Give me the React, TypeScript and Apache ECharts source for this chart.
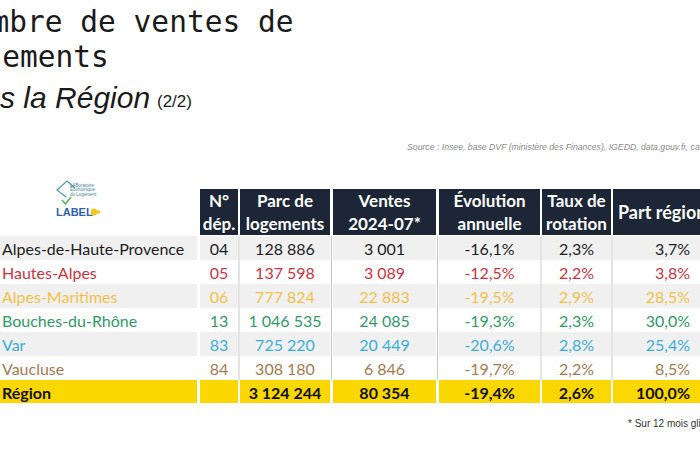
import { useEffect, useRef } from "react";
import * as echarts from "echarts";

// ---- Data ----
const departements = [
  "Alpes-de-Haute-Provence",
  "Hautes-Alpes",
  "Alpes-Maritimes",
  "Bouches-du-Rhône",
  "Var",
  "Vaucluse",
];
const codes = ["04", "05", "06", "13", "83", "84"];
const parcLogements = [128886, 137598, 777824, 1046535, 725220, 308180];
const ventes = [3001, 3089, 22883, 24085, 20449, 6846];
const evolution = [-16.1, -12.5, -19.5, -19.3, -20.6, -19.7];
const tauxRotation = [2.3, 2.2, 2.9, 2.3, 2.8, 2.2];
const partRegion = [3.7, 3.8, 28.5, 30.0, 25.4, 8.5];

const regionLabel = "Région";
const regionParc = 3124244;
const regionVentes = 80354;
const regionEvolution = -19.4;
const regionTaux = 2.6;
const regionPart = 100.0;

const headers = [
  "",
  "N°\ndép.",
  "Parc de\nlogements",
  "Ventes\n2024-07*",
  "Évolution\nannuelle",
  "Taux de\nrotation",
  "Part région",
];

const rowColors = ["#1e1e1e", "#cc3340", "#f0c24a", "#2f9a66", "#3aaed8", "#a57a50"];

const titleLine1 = "Nombre de ventes de";
const titleLine2 = "logements";
const titleLine3 = "Dans la Région";
const titlePage = "(2/2)";
const sourceText =
  "Source : Insee, base DVF (ministère des Finances), IGEDD, data.gouv.fr, calculs LABEL";
const footnote = "* Sur 12 mois glissants";

// ---- Formatting ----
const fmtInt = (n: number) => String(n).replace(/\B(?=(\d{3})+(?!\d))/g, " ");
const fmtPct = (v: number) => v.toFixed(1).replace(".", ",") + "%";

// ---- Layout ----
const cols = [
  { x0: 0, x1: 197, align: "left" },
  { x0: 200, x1: 238, align: "center" },
  { x0: 240, x1: 330, align: "center" },
  { x0: 333, x1: 436, align: "center" },
  { x0: 439, x1: 540, align: "center" },
  { x0: 542, x1: 611, align: "center" },
  { x0: 613, x1: 720, align: "right" },
];
const headerTop = 189;
const headerBottom = 235;
const rowTop = 236;
const rowH = 24;
const FONT = "Lato";

export default function App() {
  const ref = useRef<HTMLDivElement>(null);

  useEffect(() => {
    if (!ref.current) return;
    const chart = echarts.init(ref.current, undefined, { renderer: "svg" });
    const els: any[] = [];

    // Title
    els.push({
      type: "text",
      x: -44,
      y: 22,
      style: {
        text: titleLine1,
        font: "29.5px 'DejaVu Sans Mono'",
        fill: "#1a1a1a",
        verticalAlign: "middle",
      },
    });
    els.push({
      type: "text",
      x: -51,
      y: 57,
      style: {
        text: titleLine2,
        font: "29.5px 'DejaVu Sans Mono'",
        fill: "#1a1a1a",
        verticalAlign: "middle",
      },
    });
    els.push({
      type: "text",
      x: -55,
      y: 97,
      style: {
        text: titleLine3,
        font: "italic 30px 'Liberation Sans'",
        fill: "#1a1a1a",
        verticalAlign: "middle",
      },
    });
    els.push({
      type: "text",
      x: 157,
      y: 101,
      style: {
        text: titlePage,
        font: "17px 'Liberation Sans'",
        fill: "#1a1a1a",
        verticalAlign: "middle",
      },
    });
    els.push({
      type: "text",
      x: 407,
      y: 147,
      style: {
        text: sourceText,
        font: "italic 8.7px 'Liberation Sans'",
        fill: "#8a8a8a",
        verticalAlign: "middle",
      },
    });
    els.push({
      type: "text",
      x: 628,
      y: 423,
      style: {
        text: footnote,
        font: "10px 'Liberation Sans'",
        fill: "#333",
        verticalAlign: "middle",
      },
    });

    // Logo
    els.push({
      type: "polyline",
      shape: { points: [[66, 197], [57, 190], [67, 181], [75, 188]] },
      style: { stroke: "#4a9bb0", lineWidth: 1.2, fill: null },
    });
    ["LABoratoire", "Économique", "du Logement"].forEach((t, i) => {
      els.push({
        type: "text",
        x: 70,
        y: 185 + i * 4.5,
        style: { text: t, font: "4.5px 'Liberation Sans'", fill: "#3d7fa0", verticalAlign: "middle" },
      });
    });
    els.push({
      type: "polyline",
      shape: { points: [[62, 200], [65.5, 204], [71, 197]] },
      style: { stroke: "#5cb85c", lineWidth: 1.6, fill: null },
    });
    els.push({
      type: "text",
      x: 56,
      y: 212,
      style: { text: "LABEL", font: "bold 11px 'Liberation Sans'", fill: "#2d62b0", verticalAlign: "middle" },
    });
    els.push({ type: "circle", shape: { cx: 94, cy: 212, r: 3.5 }, style: { fill: "#f5c518" } });
    els.push({ type: "rect", shape: { x: 94, y: 210.5, width: 6, height: 3 }, style: { fill: "#f5c518" } });

    // Header cells
    cols.forEach((c, i) => {
      if (i === 0) return;
      els.push({
        type: "rect",
        shape: { x: c.x0, y: headerTop, width: c.x1 - c.x0, height: headerBottom - headerTop },
        style: { fill: "#1c2636" },
      });
      const single = !headers[i].includes("\n");
      els.push({
        type: "text",
        x: single ? c.x0 + 5 : (c.x0 + c.x1) / 2,
        y: (headerTop + headerBottom) / 2,
        style: {
          text: headers[i],
          font: `bold ${single ? 18 : 17}px ${FONT}`,
          fill: "#ffffff",
          align: single ? "left" : "center",
          verticalAlign: "middle",
          lineHeight: 23,
        },
      });
    });

    // Body rows
    const allRows = departements.map((d, r) => ({
      cells: [d, codes[r], fmtInt(parcLogements[r]), fmtInt(ventes[r]), fmtPct(evolution[r]), fmtPct(tauxRotation[r]), fmtPct(partRegion[r])],
      color: rowColors[r],
      bold: false,
      bg: r % 2 === 0 ? "#f0f0f0" : "#ffffff",
    }));
    allRows.push({
      cells: [regionLabel, "", fmtInt(regionParc), fmtInt(regionVentes), fmtPct(regionEvolution), fmtPct(regionTaux), fmtPct(regionPart)],
      color: "#111111",
      bold: true,
      bg: "#fad700",
    });

    allRows.forEach((row, r) => {
      const y0 = rowTop + r * rowH;
      cols.forEach((c, i) => {
        els.push({
          type: "rect",
          shape: { x: c.x0, y: y0, width: c.x1 - c.x0, height: r === allRows.length - 1 ? rowH - 1 : rowH },
          style: { fill: row.bg },
        });
        const tx = c.align === "left" ? c.x0 + 2 : c.align === "right" ? 690 : (c.x0 + c.x1) / 2;
        els.push({
          type: "text",
          x: tx,
          y: y0 + rowH / 2,
          z: 2,
          style: {
            text: row.cells[i],
            font: `${row.bold ? "bold " : ""}16px ${FONT}`,
            fill: row.color,
            align: c.align,
            verticalAlign: "middle",
          },
        });
      });
    });

    // Column separators (body)
    [239, 331.5, 437.5, 541, 612].forEach((x) => {
      els.push({
        type: "line",
        shape: { x1: x, y1: rowTop, x2: x, y2: rowTop + departements.length * rowH },
        style: { stroke: "#c9c9c9", lineWidth: 1 },
        z: 1,
      });
    });

    chart.setOption({
      animation: false,
      graphic: { elements: els },
    });
    return () => chart.dispose();
  }, []);

  return (
    <div
      ref={ref}
      style={{ position: "fixed", left: 0, top: 0, width: 700, height: 450, background: "#ffffff" }}
    />
  );
}
